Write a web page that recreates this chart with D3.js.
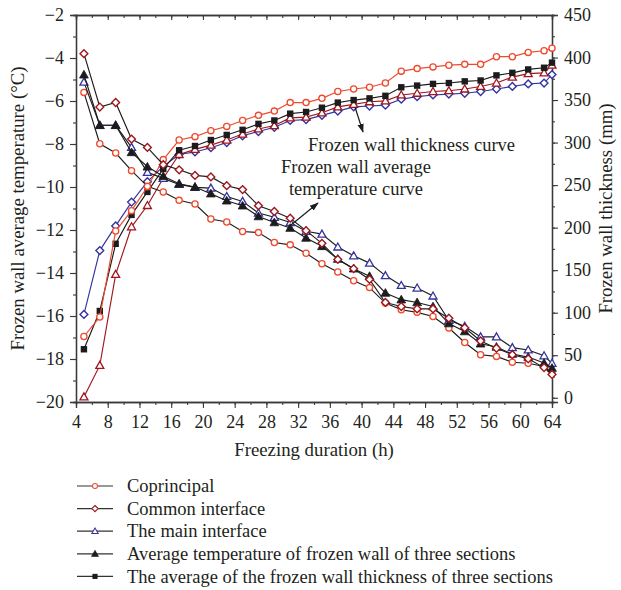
<!DOCTYPE html>
<html>
<head>
<meta charset="utf-8">
<script src="https://cdn.jsdelivr.net/npm/d3@7"></script>
<style>
  html, body { margin: 0; padding: 0; background: #fff; }
  svg { display: block; font-family: "Liberation Serif", "Times New Roman", serif; }
</style>
</head>
<body>
<svg id="chart" width="621" height="590"></svg>
<script>
// Freezing duration (h)
const hours = [5, 7, 9, 11, 13, 15, 17, 19, 21, 23, 25, 27, 29, 31, 33, 35, 37, 39, 41, 43, 45, 47, 49, 51, 53, 55, 57, 59, 61, 63, 64];

// Frozen wall average temperature (°C)
const tempCoprincipal = [-5.60, -7.99, -8.42, -9.24, -9.97, -10.23, -10.62, -10.79, -11.49, -11.63, -12.07, -12.12, -12.58, -12.69, -13.08, -13.57, -13.95, -14.36, -14.68, -15.40, -15.71, -15.83, -16.02, -16.56, -17.23, -17.80, -17.88, -18.15, -18.20, -18.35, -18.67];
const tempCommon = [-3.80, -6.28, -6.07, -7.77, -8.16, -8.96, -9.20, -9.46, -9.53, -9.94, -10.12, -10.87, -11.14, -11.45, -12.03, -12.62, -13.37, -13.80, -14.30, -15.37, -15.56, -15.67, -15.67, -16.10, -16.55, -17.16, -17.50, -17.80, -17.99, -18.40, -18.72];
const tempMain = [-5.12, -7.13, -7.13, -8.16, -9.32, -9.60, -9.88, -10.02, -10.05, -10.44, -10.67, -11.21, -11.41, -11.65, -12.06, -12.19, -12.79, -13.20, -13.54, -14.12, -14.58, -14.70, -15.07, -16.20, -16.48, -16.97, -16.97, -17.47, -17.58, -17.85, -18.20];
const tempAverage = [-4.78, -7.13, -7.13, -8.39, -9.06, -9.50, -9.85, -10.00, -10.31, -10.64, -10.87, -11.37, -11.65, -11.91, -12.37, -12.76, -13.35, -13.80, -14.15, -14.93, -15.24, -15.37, -15.56, -16.35, -16.72, -17.29, -17.44, -17.77, -17.91, -18.19, -18.42];

// Frozen wall thickness (mm)
const thickCoprincipal = [72, 95, 196, 220, 248, 280, 303, 307, 314, 319, 326, 332, 337, 347, 347, 352, 360, 363, 365, 370, 384, 387, 389, 391, 392, 392, 401, 401, 406, 408, 411];
const thickCommon = [1, 38, 145, 201, 226, 258, 286, 292, 297, 303, 310, 316, 320, 329, 330, 335, 342, 345, 348, 349, 356, 358, 360, 361, 363, 366, 370, 377, 381, 382, 391];
const thickMain = [98, 173, 202, 230, 254, 272, 286, 289, 294, 300, 308, 313, 318, 326, 327, 332, 337, 342, 343, 344, 351, 354, 356, 357, 358, 360, 363, 366, 369, 370, 380];
const thickAverage = [57, 102, 181, 215, 242, 269, 291, 296, 303, 309, 315, 322, 326, 334, 336, 341, 347, 350, 352, 355, 365, 367, 369, 370, 372, 373, 379, 382, 386, 388, 394];

// Axis ticks
const xTicks = [4, 8, 12, 16, 20, 24, 28, 32, 36, 40, 44, 48, 52, 56, 60, 64];
const leftTicks = [-2, -4, -6, -8, -10, -12, -14, -16, -18, -20];
const rightTicks = [0, 50, 100, 150, 200, 250, 300, 350, 400, 450];

// Legend entries
const legendLabels = [
  "Coprincipal",
  "Common interface",
  "The main interface",
  "Average temperature of frozen wall of three sections",
  "The average of the frozen wall thickness of three sections"
];

const C = {
  red: "#ef4a2d",
  darkRed: "#a0161f",
  blue: "#3434a0",
  black: "#1c1c1c",
  axis: "#3a3a3a",
  text: "#231f20"
};

const svg = d3.select("#chart");
const L = 76, R = 552, T = 15, B = 402;

const x = d3.scaleLinear().domain([4, 64]).range([L, R]);
const yT = d3.scaleLinear().domain([-20, -2]).range([B, T]);
const yW = d3.scaleLinear().domain([-5, 450]).range([B, T]);

const FS_TICK = 18;
const FS_TEXT = 18.5;
const FS_TITLE = 18.8;

// ---- axes ----
const gx = svg.append("g").attr("transform", `translate(0,${B})`);
gx.call(d3.axisBottom(x).tickValues(d3.range(4, 65, 2)).tickSize(3).tickFormat(""));
gx.append("g").call(d3.axisBottom(x).tickValues(xTicks).tickSize(6).tickPadding(7)
  .tickFormat(d => d));

const gxTop = svg.append("g").attr("transform", `translate(0,${T})`);
gxTop.call(d3.axisBottom(x).tickValues(d3.range(4, 65, 2)).tickSize(3).tickFormat(""));
gxTop.append("g").call(d3.axisBottom(x).tickValues(xTicks).tickSize(5).tickFormat(""));

const gl = svg.append("g").attr("transform", `translate(${L},0)`);
gl.call(d3.axisLeft(yT).tickValues(d3.range(-20, -1, 1)).tickSize(3).tickFormat(""));
gl.append("g").call(d3.axisLeft(yT).tickValues(leftTicks).tickSize(6).tickPadding(6)
  .tickFormat(d => d < 0 ? "\u2212" + Math.abs(d) : d));

const gr = svg.append("g").attr("transform", `translate(${R},0)`);
gr.call(d3.axisRight(yW).tickValues(d3.range(0, 451, 25)).tickSize(3).tickFormat(""));
gr.append("g").call(d3.axisRight(yW).tickValues(rightTicks).tickSize(6).tickPadding(6)
  .tickFormat(d => d));

svg.selectAll(".domain").attr("stroke", C.axis).attr("stroke-width", 1.3);
svg.selectAll(".tick line").attr("stroke", C.axis).attr("stroke-width", 1.1);
svg.selectAll(".tick text").attr("fill", C.text)
  .style("font-size", FS_TICK + "px").style("font-family", "Liberation Serif, serif");

// axis titles
svg.append("text").attr("x", (L + R) / 2).attr("y", 456).attr("text-anchor", "middle")
  .attr("fill", C.text).style("font-size", FS_TITLE + "px").text("Freezing duration (h)");
svg.append("text").attr("transform", `translate(24,${(T + B) / 2}) rotate(-90)`)
  .attr("text-anchor", "middle").attr("fill", C.text).style("font-size", FS_TITLE + "px")
  .text("Frozen wall average temperature (\u00B0C)");
svg.append("text").attr("transform", `translate(612,${(T + B) / 2}) rotate(-90)`)
  .attr("text-anchor", "middle").attr("fill", C.text).style("font-size", FS_TITLE + "px")
  .text("Frozen wall thickness (mm)");

// ---- marker drawing ----
function drawMarker(g, shape, cx, cy, color) {
  if (shape === "circle") {
    g.append("circle").attr("cx", cx).attr("cy", cy).attr("r", 3.1)
      .attr("fill", "#fff").attr("stroke", color).attr("stroke-width", 1.3);
  } else if (shape === "diamond") {
    const s = 3.9;
    g.append("path").attr("d", `M${cx},${cy - s}L${cx + s},${cy}L${cx},${cy + s}L${cx - s},${cy}Z`)
      .attr("fill", "#fff").attr("stroke", color).attr("stroke-width", 1.4);
  } else if (shape === "triangle") {
    const s = 4;
    g.append("path").attr("d", `M${cx},${cy - s}L${cx + s},${cy + s * 0.75}L${cx - s},${cy + s * 0.75}Z`)
      .attr("fill", "#fff").attr("stroke", color).attr("stroke-width", 1.3);
  } else if (shape === "triangleFilled") {
    const s = 4.4;
    g.append("path").attr("d", `M${cx},${cy - s}L${cx + s},${cy + s * 0.75}L${cx - s},${cy + s * 0.75}Z`)
      .attr("fill", color).attr("stroke", color).attr("stroke-width", 0.8);
  } else if (shape === "square") {
    const s = 3.2;
    g.append("rect").attr("x", cx - s).attr("y", cy - s).attr("width", 2 * s).attr("height", 2 * s)
      .attr("fill", color);
  }
}

function drawSeries(values, yScale, lineColor, shape, markerColor) {
  const g = svg.append("g");
  const pts = hours.map((h, i) => [x(h), yScale(values[i])]);
  g.append("path").attr("d", d3.line()(pts)).attr("fill", "none")
    .attr("stroke", lineColor).attr("stroke-width", 1.15);
  pts.forEach(p => drawMarker(g, shape, p[0], p[1], markerColor));
}

// thickness curves (right axis)
drawSeries(thickMain, yW, C.blue, "diamond", C.blue);
drawSeries(thickCommon, yW, C.darkRed, "triangle", C.darkRed);
drawSeries(thickAverage, yW, C.black, "square", C.black);
drawSeries(thickCoprincipal, yW, C.red, "circle", C.red);

// temperature curves (left axis)
drawSeries(tempCoprincipal, yT, C.black, "circle", C.red);
drawSeries(tempMain, yT, C.black, "triangle", C.blue);
drawSeries(tempAverage, yT, C.black, "triangleFilled", C.black);
drawSeries(tempCommon, yT, C.black, "diamond", C.darkRed);

// ---- annotations ----
const defs = svg.append("defs");
defs.append("marker").attr("id", "arrow").attr("viewBox", "0 0 10 10")
  .attr("refX", 9).attr("refY", 5).attr("markerWidth", 9).attr("markerHeight", 9)
  .attr("markerUnits", "userSpaceOnUse").attr("orient", "auto")
  .append("path").attr("d", "M0,1.5L10,5L0,8.5Z").attr("fill", C.black);

svg.append("line").attr("x1", 355).attr("y1", 107).attr("x2", 363).attr("y2", 132)
  .attr("stroke", C.black).attr("stroke-width", 1.2).attr("marker-end", "url(#arrow)");
svg.append("line").attr("x1", 291).attr("y1", 225).attr("x2", 318).attr("y2", 203)
  .attr("stroke", C.black).attr("stroke-width", 1.2).attr("marker-end", "url(#arrow)");

svg.append("text").attr("x", 308).attr("y", 151).attr("fill", C.text)
  .style("font-size", FS_TEXT + "px").text("Frozen wall thickness curve");
svg.append("text").attr("x", 356).attr("y", 173).attr("text-anchor", "middle").attr("fill", C.text)
  .style("font-size", FS_TEXT + "px").text("Frozen wall average");
svg.append("text").attr("x", 356).attr("y", 195).attr("text-anchor", "middle").attr("fill", C.text)
  .style("font-size", FS_TEXT + "px").text("temperature curve");

// ---- legend ----
const legendShapes = [
  ["circle", C.red], ["diamond", C.darkRed], ["triangle", C.blue],
  ["triangleFilled", C.black], ["square", C.black]
];
const lg = svg.append("g");
legendLabels.forEach((label, i) => {
  const cy = 486 + i * 22.6;
  lg.append("line").attr("x1", 77).attr("x2", 113).attr("y1", cy).attr("y2", cy)
    .attr("stroke", "#333").attr("stroke-width", 1.2);
  const s = legendShapes[i];
  const g = lg.append("g").attr("transform", `translate(95,${cy}) scale(0.8) translate(-95,${-cy})`);
  drawMarker(g, s[0], 95, cy, s[1]);
  lg.append("text").attr("x", 127).attr("y", cy).attr("dy", "0.33em").attr("fill", C.text)
    .style("font-size", FS_TEXT + "px").text(label);
});
</script>
</body>
</html>
